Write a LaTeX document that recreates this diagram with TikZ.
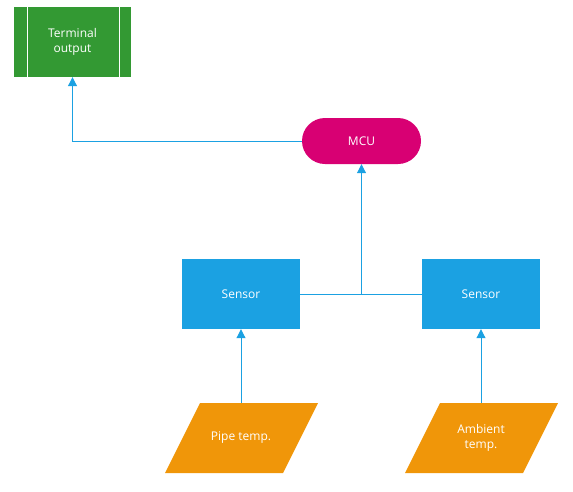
\documentclass[tikz,border=0pt]{standalone}
\usepackage{fontspec}
\setmainfont{Open Sans}
\usetikzlibrary{arrows.meta}
\definecolor{cgreen}{HTML}{339933}
\definecolor{cmag}{HTML}{D80073}
\definecolor{cblue}{HTML}{1BA1E2}
\definecolor{corange}{HTML}{F09609}
\tikzset{
  lbl/.style={text=white, font=\fontsize{12}{15}\selectfont, align=center},
  boxnode/.style={lbl, fill=cblue, minimum width=118pt, minimum height=70pt, inner sep=0pt},
  conn/.style={draw=cblue, line width=1pt},
  arr/.style={conn, -{Triangle[width=9pt,length=9pt]}},
}
\begin{document}
\begin{tikzpicture}[x=1pt,y=-1pt]
\useasboundingbox (0,0) rectangle (573,491);
% terminal output
\node[lbl, fill=cgreen, minimum width=117pt, minimum height=70pt, inner sep=0pt] (term) at (72.5,42) {Terminal\\output};
\draw[white, line width=1pt] (27,7) -- (27,77) (119,7) -- (119,77);
% MCU
\node[lbl, fill=cmag, minimum width=119pt, minimum height=46pt, rounded corners=23pt, inner sep=0pt] (mcu) at (361.5,141) {MCU};
% sensors
\node[boxnode] (s1) at (241,294) {Sensor};
\node[boxnode] (s2) at (481,294) {Sensor};
% inputs
\fill[corange] (200,403) -- (318,403) -- (283,473) -- (165,473) -- cycle;
\fill[corange] (440,403) -- (558,403) -- (523,473) -- (405,473) -- cycle;
\node[lbl, minimum width=118pt, minimum height=70pt, inner sep=0pt] (pipe) at (241,438) {Pipe temp.};
\node[lbl, minimum width=118pt, minimum height=70pt, inner sep=0pt] (amb) at (481,438) {Ambient\\temp.};
% connectors
\coordinate (j) at (361.5,294);
\draw[conn] (s1.east) -- (s2.west);
\draw[arr] (j) -- (mcu.south);
\draw[arr] (mcu.west) -| (term.south);
\draw[arr] (pipe.north) -- (s1.south);
\draw[arr] (amb.north) -- (s2.south);
\end{tikzpicture}
\end{document}
